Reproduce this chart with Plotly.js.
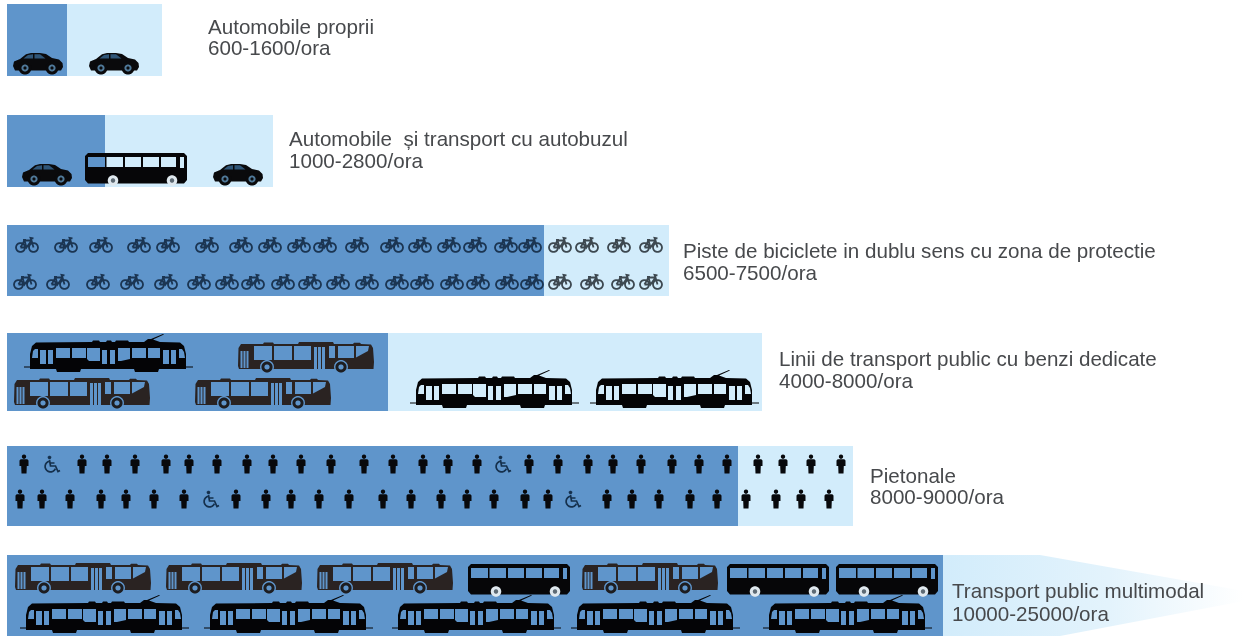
<!DOCTYPE html>
<html><head><meta charset="utf-8">
<script src="https://cdn.plot.ly/plotly-3.0.1.min.js"></script>
<style>html,body{margin:0;padding:0;background:#fff}#chart{width:1244px;height:636px;filter:blur(.55px)}</style>
</head><body><div id="chart"></div>
<script>
// ---- chart content ----
const modes = ["Automobile proprii","Automobile\u00a0 și transport cu autobuzul","Piste de biciclete in dublu sens cu zona de protectie","Linii de transport public cu benzi dedicate","Pietonale","Transport public multimodal"];
const ranges = ["600-1600/ora","1000-2800/ora","6500-7500/ora","4000-8000/ora","8000-9000/ora","10000-25000/ora"];
const rowY = [40,151,260.5,372,486,595.5];
const rowH = [72,72,71,78,80,81];
const lowLen = [60,98,537,381,731,936];
const extraLen = [95,168,125,374,115,0];
const labelX = [208,289,683,779,870,952];
const nameY = [26.5,138,250,358,475,590];
const rangeY = [47.5,160,272,380,496,613];
const taperX = [943,1040,1244,1244,1060,943];
const taperY = [555,555,591,601,636,636];

const carsX = [13,89,22,213], carsY = [53,53,164,164];
const coachX = [85,468,727,836], coachY = [153,564,564,564];
const trolleyX = [238,14,195,15,166,317,582], trolleyY = [342,378,378,563,563,563,563];
const tramX = [24,410,590,20,204,392,571,763], tramY = [334,370,370,595,595,595,595,595];
const bike1 = [27,66,101,139,168,207,241,270,299,325,357,392,420,449,475,506,530,560,587,619,651];
const bike2 = [25,58,98,132,166,199,227,253,283,310,338,367,397,422,452,478,507,532,560,592,623,651];
const walk1 = [24,82,107,135,166,189,217,247,273,301,331,364,393,423,448,477,529,558,588,613,641,672,699,727,758,783,811,841];
const walk2 = [20,42,70,101,126,154,184,236,266,291,319,349,383,411,441,467,494,525,548,607,632,659,690,717,746,776,801,829];
const chair1 = [52,503], chair2 = [211,573];
const bikeRowY = [245,282], walkRowY = [464,499];

const DARK = "#5f95cb", LIGHT = "#d2ecfb", TEXT = "#47494c";

// ---- icon outlines (local drawing units) ----
const circ = (cx,cy,r,n=18)=>Array.from({length:n},(_,i)=>[cx+r*Math.cos(2*Math.PI*i/n),cy+r*Math.sin(2*Math.PI*i/n)]);
const rect = (a,b,c,d)=>[[a,b],[c,b],[c,d],[a,d]];
const toPath = (subs,ox,oy,close=true)=>subs.map(s=>"M"+s.map(p=>(p[0]+ox).toFixed(2)+","+(p[1]+oy).toFixed(2)).join("L")+(close?"Z":"")).join("");

const carIcon = [
 {fill:"#0a0a0c",subs:[[[0,13],[1,8.5],[7,6],[13,1.2],[18,0],[27,0],[33,1],[39,5],[46,6.5],[49.5,10],[50,14],[48,17.5],[2,17.5]]]},
 {fill:"#2f5577",subs:[[[10.5,5.6],[15,2],[20,1.2],[20,5.6]],[[21.5,1.2],[27,1.2],[32.5,5.6],[21.5,5.6]]]},
 {fill:"#0a0a0c",subs:[circ(12,15,6.5),circ(39,15,6.5)]},
 {fill:"#4f7898",subs:[circ(12,15,3.6),circ(39,15,3.6)]},
 {fill:"#0a0a0c",subs:[circ(12,15,1.6),circ(39,15,1.6)]}
];
const coachIcon = [
 {fill:"#060608",subs:[[[3,0],[99,0],[102,3],[102,27],[99,30.5],[3,30.5],[0,27],[0,3]],
   rect(3,4,20,14),rect(21.5,4,38,14),rect(40,4,56,14),rect(58,4,74,14),rect(76,4,91,14),rect(95,4,99,15)]},
 {fill:"#dfe8ee",subs:[circ(28,27.5,5.3),circ(87,27.5,5.3)]},
 {fill:"#5d6a74",subs:[circ(28,27.5,2.2),circ(87,27.5,2.2)]}
];
const trolleyIcon = [
 {fill:"#2a2322",subs:[[[3,2],[25,2],[26,0.6],[35,0.6],[36,2],[60,2],[61,0],[95,0],[96,2],[115,2],[116,0.8],[122,0.8],[123,2],[133,2.5],[135,6],[136,20],[135.5,27],[1,27],[0,24],[0.5,6]],
   rect(2.5,9,4.5,26),rect(5.5,9,7.5,26),rect(8.5,9,10.5,26),
   rect(16,4,34,18),rect(36,4,54,18),rect(56,4,73,18),
   rect(76,5,79,27),rect(80,5,83,27),rect(84,5,87,27),
   rect(91,4,97,16),rect(100,4,116,16),[[118,4],[131,4],[130,9],[118,15.5]]]},
 {fill:DARK,subs:[circ(29,25,7),circ(103,25,7)]},
 {fill:"#1d1d20",subs:[circ(29,25,5.6),circ(103,25,5.6)]},
 {fill:DARK,subs:[circ(29,25,2.6),circ(103,25,2.6)]}
];
const tramIcon = [
 {fill:"#040406",subs:[[[0,32.6],[6,32.6],[6,20],[8,12],[12,8.5],[68,8],[69,6.5],[75,6.5],[76,8],[82,8],[83,6.5],[87,6.5],[88,8],[91,8],[92,6.5],[104,6.5],[105,8],[120,8],[124,5],[127,5],[139,0],[140,0.6],[129,5.5],[136,8],[156,8.5],[160,12],[162,20],[162,32.6],[169,32.6],[169,33.6],[162,33.6],[162,35],[135,35],[134,38],[111,38],[110,35],[57,35],[56,38],[33,38],[32,35],[6,35],[6,33.6],[0,33.6]],
   rect(16,16,22,30),rect(24,16,29,30),rect(32,14,46,24),rect(48,14,62,24),[[63,14],[76,14],[76,27],[65,27],[63,25]],
   rect(78,16,83,30),rect(86,16,91,30),[[94,14],[106,14],[106,25],[97,27],[94,27]],rect(108,14,122,24),rect(124,14,136,24),
   rect(139,16,145,30),rect(147,16,152,30),[[8,24],[9,17],[11,15],[14,15],[14,24]],[[155,15],[158,15],[160,18],[161,24],[155,24]]]}
];
const personIcon = [{fill:"#08090c",subs:[circ(4.5,2.2,2.2,12),[[1.2,4.8],[7.8,4.8],[9,6],[9,11.5],[7.3,11.5],[7,19],[2,19],[1.7,11.5],[0,11.5],[0,6]]]}];
const bikeStroke = [circ(5,10,4.5),circ(18,10,4.5)];
const bikeFrame = [[[5,10],[9,3],[16,3],[18,10]],[[9,3],[11,10],[16,3]],[[5,10],[11,10]],[[16,3],[15,0.4],[18,0.8]],[[7.5,2.4],[10.5,2.4]]];
const chairRing = Array.from({length:14},(_,i)=>{const a=(25+i*18)*Math.PI/180;return [6+5.4*Math.cos(a),11+5.4*Math.sin(a)];});
const chairFrame = [chairRing,[[5,4.5],[6,10.5],[11,10.5],[13.5,16],[15.5,15]],[[5.5,7.5],[10,7.5]]];

// ---- build shapes through the axes ----
const shapes = [];
const stamp = (icon,x,y)=>icon.forEach(l=>shapes.push({type:"path",xref:"x",yref:"y",layer:"above",path:toPath(l.subs,x,y),fillcolor:l.fill,fillrule:"evenodd",line:{width:0}}));
const strokeShape = (closed,open,x,y,c,w)=>shapes.push({type:"path",xref:"x",yref:"y",layer:"above",path:toPath(closed,x,y)+toPath(open,x,y,false),fillcolor:"rgba(0,0,0,0)",line:{color:c,width:w}});
carsX.forEach((x,i)=>stamp(carIcon,x,carsY[i]));
coachX.forEach((x,i)=>stamp(coachIcon,x,coachY[i]));
trolleyX.forEach((x,i)=>stamp(trolleyIcon,x,trolleyY[i]));
tramX.forEach((x,i)=>stamp(tramIcon,x,tramY[i]));
[bike1,bike2].forEach((row,r)=>row.forEach(cx=>{
  strokeShape(bikeStroke,bikeFrame,cx-11.5,bikeRowY[r]-7.5,cx<545?"#1b3552":"#3d4850",1.8);
}));
[walk1,walk2].forEach((row,r)=>row.forEach(cx=>stamp(personIcon,cx-4.5,walkRowY[r]-9.5)));
[chair1,chair2].forEach((row,r)=>row.forEach(cx=>{
  const x=cx-7.5,y=walkRowY[r]-8.5;
  strokeShape([],chairFrame,x,y,"#15304c",1.7);
  stamp([{fill:"#15304c",subs:[circ(5,2,1.8,10)]}],x,y);
}));

// ---- traces ----
const barBase = 7;
const traces = [
 {type:"scatter",mode:"lines",x:taperX.concat(taperX[0]),y:taperY.concat(taperY[0]),fill:"toself",line:{width:0,color:"rgba(0,0,0,0)"},
  fillgradient:{type:"horizontal",colorscale:[[0,LIGHT],[0.55,"#e3f3fc"],[1,"#ffffff"]]},hoverinfo:"skip",showlegend:false},
 {type:"bar",orientation:"h",y:rowY,x:lowLen,base:barBase,width:rowH,marker:{color:DARK,line:{width:0}},hoverinfo:"skip",showlegend:false},
 {type:"bar",orientation:"h",y:rowY,x:extraLen,base:lowLen.map(v=>v+barBase),width:rowH,marker:{color:LIGHT,line:{width:0}},hoverinfo:"skip",showlegend:false}
];

const labelFont = {family:"Liberation Sans, Arial, sans-serif",size:20.6,color:TEXT};
const label = (t,x,y)=>({xref:"x",yref:"y",x:x-2,y:y,text:t,showarrow:false,xanchor:"left",yanchor:"middle",align:"left",font:labelFont});
const annotations = modes.map((m,i)=>label(m,labelX[i],nameY[i])).concat(ranges.map((r,i)=>label(r,labelX[i],rangeY[i])));

Plotly.newPlot("chart",traces,{
  width:1244,height:636,margin:{l:0,r:0,t:0,b:0,pad:0},paper_bgcolor:"#fff",plot_bgcolor:"#fff",barmode:"overlay",showlegend:false,
  xaxis:{range:[0,1244],visible:false,fixedrange:true},
  yaxis:{range:[636,0],visible:false,fixedrange:true},
  shapes,annotations
},{displayModeBar:false,staticPlot:true});
</script></body></html>
